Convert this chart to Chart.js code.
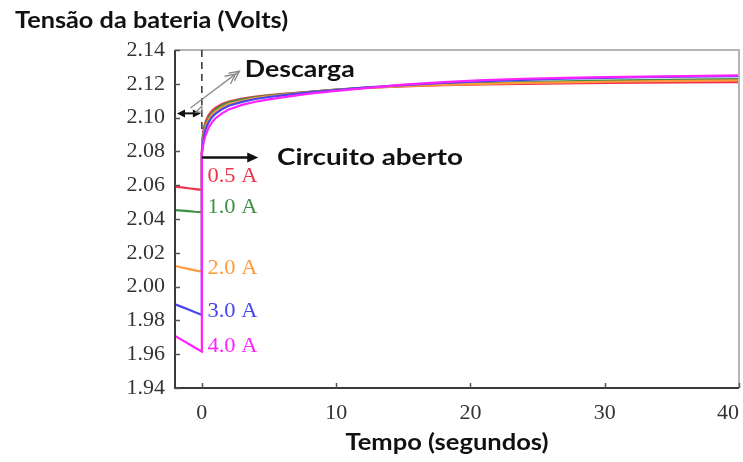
<!DOCTYPE html>
<html>
<head>
<meta charset="utf-8">
<script src="https://cdn.jsdelivr.net/npm/chart.js@4/dist/chart.umd.min.js"></script>
<style>
  html, body { margin: 0; padding: 0; background: #ffffff; }
  #wrap { width: 743px; height: 462px; position: relative; }
</style>
</head>
<body>
<div id="wrap"><canvas id="c" width="743" height="462"></canvas></div>
<script>
// Axis ticks
const X_TICKS = [0, 10, 20, 30, 40];
const Y_TICKS = [1.94, 1.96, 1.98, 2.00, 2.02, 2.04, 2.06, 2.08, 2.10, 2.12, 2.14];

// Discharge phase (seconds before the current is cut)
const T_DISCHARGE = [-2, -1.5, -1, -0.5, 0];
const DIS_05A = [2.0591, 2.0587, 2.0582, 2.0577, 2.0572];
const DIS_10A = [2.0453, 2.0450, 2.0447, 2.0443, 2.0440];
const DIS_20A = [2.0122, 2.0113, 2.0105, 2.0096, 2.0088];
const DIS_30A = [1.9895, 1.9880, 1.9864, 1.9848, 1.9832];
const DIS_40A = [1.9708, 1.9685, 1.9662, 1.9638, 1.9615];

// Open-circuit recovery
const T_RECOVERY = [0, 0.05, 0.15, 0.3, 0.5, 0.75, 1, 1.5, 2, 3, 4, 5, 6, 8, 10, 12, 15, 18, 21, 24, 27, 30, 33, 36, 40];
const REC_05A = [2.079, 2.088, 2.094, 2.098, 2.1015, 2.104, 2.1058, 2.108, 2.1095, 2.1112, 2.1124, 2.1133, 2.114, 2.1153, 2.1165, 2.1175, 2.1185, 2.1192, 2.1197, 2.1200, 2.1203, 2.1205, 2.1207, 2.1208, 2.1210];
const REC_10A = [2.079, 2.086, 2.0925, 2.0965, 2.100, 2.1028, 2.1048, 2.1072, 2.109, 2.1108, 2.112, 2.113, 2.1138, 2.1152, 2.1165, 2.1176, 2.1188, 2.1197, 2.1204, 2.1210, 2.1215, 2.1219, 2.1222, 2.1225, 2.1228];
const REC_20A = [2.079, 2.084, 2.0905, 2.095, 2.0985, 2.1015, 2.1035, 2.106, 2.108, 2.110, 2.1115, 2.1126, 2.1135, 2.115, 2.1163, 2.1174, 2.1186, 2.1194, 2.1200, 2.1205, 2.1209, 2.1212, 2.1215, 2.1217, 2.1220];
const REC_30A = [2.079, 2.083, 2.089, 2.0935, 2.0972, 2.1002, 2.1022, 2.105, 2.107, 2.1093, 2.111, 2.1122, 2.1132, 2.1149, 2.1163, 2.1177, 2.1192, 2.1205, 2.1215, 2.1223, 2.1230, 2.1235, 2.1239, 2.1242, 2.1246];
const REC_40A = [2.079, 2.0815, 2.086, 2.090, 2.094, 2.0972, 2.0995, 2.1025, 2.1048, 2.1075, 2.1094, 2.1108, 2.112, 2.1142, 2.1158, 2.1173, 2.1195, 2.121, 2.1222, 2.1230, 2.1235, 2.1240, 2.1243, 2.1246, 2.1250];

const SERIES = [
  { label: '4.0 A', color: '#ff22ff', dis: DIS_40A, rec: REC_40A, labelY: 1.9644 },
  { label: '3.0 A', color: '#4646f2', dis: DIS_30A, rec: REC_30A, labelY: 1.9851 },
  { label: '2.0 A', color: '#ff9a3c', dis: DIS_20A, rec: REC_20A, labelY: 2.0108 },
  { label: '1.0 A', color: '#3f8f44', dis: DIS_10A, rec: REC_10A, labelY: 2.0469 },
  { label: '0.5 A', color: '#f0334a', dis: DIS_05A, rec: REC_05A, labelY: 2.0650 }
];

function seriesPoints(s) {
  const pts = T_DISCHARGE.map((t, i) => ({ x: t, y: s.dis[i] }));
  T_RECOVERY.forEach((t, i) => pts.push({ x: t, y: s.rec[i] }));
  return pts;
}

const SANS = 'Lato, "Open Sans", sans-serif';
const SERIF = '"Liberation Serif", "DejaVu Serif", serif';

function arrowHead(ctx, x, y, angle, len, half) {
  ctx.save();
  ctx.translate(x, y);
  ctx.rotate(angle);
  ctx.beginPath();
  ctx.moveTo(0, 0);
  ctx.lineTo(-len, -half);
  ctx.lineTo(-len, half);
  ctx.closePath();
  ctx.fill();
  ctx.restore();
}

// text drawn with a slight horizontal stretch (wide bold captions)
function wideText(ctx, text, x, y, sx) {
  ctx.save();
  ctx.translate(x, y);
  ctx.scale(sx, 1);
  ctx.fillText(text, 0, 0);
  ctx.restore();
}

const decorations = {
  id: 'decorations',
  afterDatasetsDraw(chart) {
    const { ctx, chartArea: a, scales: { x, y } } = chart;
    ctx.save();

    // frame: grey top/right, dark left/bottom
    ctx.lineWidth = 2;
    ctx.strokeStyle = '#b4b4b4';
    ctx.beginPath();
    ctx.moveTo(a.left, a.top); ctx.lineTo(a.right, a.top); ctx.lineTo(a.right, a.bottom);
    ctx.stroke();
    ctx.strokeStyle = '#3a3a3a';
    ctx.beginPath();
    ctx.moveTo(a.left, a.top); ctx.lineTo(a.left, a.bottom); ctx.lineTo(a.right, a.bottom);
    ctx.stroke();

    // inward tick marks
    ctx.lineWidth = 1.5;
    ctx.strokeStyle = '#555';
    Y_TICKS.forEach(v => {
      const py = Math.round(y.getPixelForValue(v)) + 0.5;
      ctx.beginPath(); ctx.moveTo(a.left, py); ctx.lineTo(a.left + 5, py); ctx.stroke();
    });
    X_TICKS.forEach(v => {
      const px = Math.round(x.getPixelForValue(v)) + 0.5;
      ctx.beginPath(); ctx.moveTo(px, a.bottom); ctx.lineTo(px, a.bottom - 5); ctx.stroke();
    });

    // dashed marker at the moment the current is cut
    const x0 = x.getPixelForValue(0);
    ctx.setLineDash([7, 5]);
    ctx.lineWidth = 1.5;
    ctx.strokeStyle = '#333';
    ctx.beginPath(); ctx.moveTo(x0, a.top); ctx.lineTo(x0, y.getPixelForValue(2.092)); ctx.stroke();
    ctx.setLineDash([]);

    // double-headed arrow spanning the discharge interval
    const yd = y.getPixelForValue(2.1025);
    const xl = x.getPixelForValue(-2) + 2;
    ctx.fillStyle = '#111';
    ctx.strokeStyle = '#111';
    ctx.lineWidth = 2;
    ctx.beginPath(); ctx.moveTo(xl + 4, yd); ctx.lineTo(x0 - 4, yd); ctx.stroke();
    arrowHead(ctx, xl, yd, Math.PI, 8, 4);
    arrowHead(ctx, x0 - 1, yd, 0, 8, 4);

    // grey pointer to the "Descarga" label
    const gx1 = x.getPixelForValue(-0.85), gy1 = y.getPixelForValue(2.1057);
    const gx2 = x.getPixelForValue(2.8), gy2 = y.getPixelForValue(2.1275);
    const ang = Math.atan2(gy2 - gy1, gx2 - gx1);
    ctx.strokeStyle = '#8a8a8a';
    ctx.lineWidth = 1.3;
    ctx.beginPath(); ctx.moveTo(gx1, gy1); ctx.lineTo(gx2, gy2); ctx.stroke();
    [0, 5].forEach(off => {
      const bx = gx2 - off * Math.cos(ang), by = gy2 - off * Math.sin(ang);
      ctx.beginPath();
      ctx.moveTo(bx - 11 * Math.cos(ang - 0.45), by - 11 * Math.sin(ang - 0.45));
      ctx.lineTo(bx, by);
      ctx.lineTo(bx - 11 * Math.cos(ang + 0.45), by - 11 * Math.sin(ang + 0.45));
      ctx.stroke();
    });
    ctx.beginPath();
    ctx.moveTo(x0 - 6, y.getPixelForValue(2.1032));
    ctx.lineTo(x0, y.getPixelForValue(2.1068));
    ctx.lineTo(x0, y.getPixelForValue(2.1032));
    ctx.closePath();
    ctx.stroke();

    // open-circuit arrow
    const yc = y.getPixelForValue(2.0764);
    const xt = x.getPixelForValue(4.2);
    ctx.strokeStyle = '#111';
    ctx.fillStyle = '#111';
    ctx.lineWidth = 2.5;
    ctx.beginPath(); ctx.moveTo(x0, yc); ctx.lineTo(xt - 8, yc); ctx.stroke();
    arrowHead(ctx, xt, yc, 0, 11, 5);

    // annotation texts
    ctx.fillStyle = '#111';
    ctx.textBaseline = 'middle';
    ctx.textAlign = 'left';
    ctx.font = 'bold 23px ' + SANS;
    wideText(ctx, 'Descarga', x.getPixelForValue(3.2), y.getPixelForValue(2.1282), 1.16);
    wideText(ctx, 'Circuito aberto', x.getPixelForValue(5.6), y.getPixelForValue(2.0761), 1.21);

    // current labels
    ctx.font = '21px ' + SERIF;
    SERIES.forEach(s => {
      ctx.fillStyle = s.color;
      wideText(ctx, s.label, x.getPixelForValue(0.42), y.getPixelForValue(s.labelY), 1.07);
    });

    // axis titles
    ctx.fillStyle = '#111';
    ctx.font = 'bold 22px ' + SANS;
    wideText(ctx, 'Tensão da bateria (Volts)', 15, 21, 1.15);
    ctx.textAlign = 'center';
    wideText(ctx, 'Tempo (segundos)', 447, 443, 1.16);
    ctx.restore();
  }
};

new Chart(document.getElementById('c'), {
  type: 'line',
  data: {
    datasets: SERIES.map(s => ({
      label: s.label,
      data: seriesPoints(s),
      borderColor: s.color,
      backgroundColor: s.color,
      borderWidth: 2.2,
      pointRadius: 0,
      tension: 0,
      fill: false
    }))
  },
  options: {
    responsive: false,
    animation: false,
    layout: { padding: { left: 0, right: 4, top: 50, bottom: 0 } },
    plugins: { legend: { display: false }, tooltip: { enabled: false }, title: { display: false } },
    scales: {
      x: {
        type: 'linear',
        min: -2, max: 40,
        grid: { display: false, drawTicks: false },
        border: { display: false },
        afterBuildTicks: sc => { sc.ticks = X_TICKS.map(v => ({ value: v })); },
        afterFit: sc => { sc.height = 74; sc.paddingLeft = 0; sc.paddingRight = 0; },
        ticks: {
          padding: 12, color: '#333', font: { family: SERIF, size: 22 }, maxRotation: 0,
          // last label sits inside the frame
          callback: v => (v === 40 ? '40\u2002\u2002' : String(v))
        }
      },
      y: {
        type: 'linear',
        min: 1.94, max: 2.14,
        grid: { display: false, drawTicks: false },
        border: { display: false },
        afterBuildTicks: sc => { sc.ticks = Y_TICKS.map(v => ({ value: v })); },
        afterFit: sc => { sc.width = 175; sc.paddingTop = 0; sc.paddingBottom = 0; },
        ticks: { padding: 10, color: '#333', font: { family: SERIF, size: 22 }, callback: v => Number(v).toFixed(2) }
      }
    }
  },
  plugins: [decorations]
});
</script>
</body>
</html>
